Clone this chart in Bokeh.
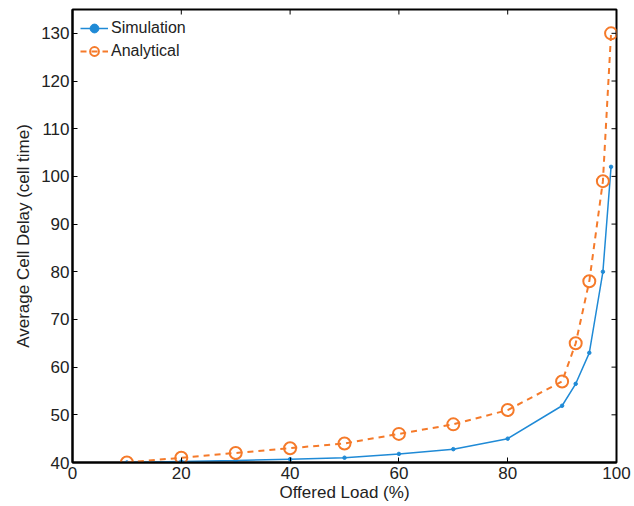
import math
from bokeh.plotting import figure
from bokeh.models import Range1d, FixedTicker, Legend, LegendItem
from bokeh.embed import file_html
from bokeh.resources import INLINE

load = [10, 20, 30, 40, 50, 60, 70, 80, 90, 92.5, 95, 97.5, 99]
simulation = [40.0, 40.2, 40.4, 40.7, 41.0, 41.8, 42.8, 45.0, 51.9, 56.5, 63.0, 80.0, 102.0]
analytical = [40.0, 41.0, 42.0, 43.0, 44.0, 46.0, 48.0, 51.0, 57.0, 65.0, 78.0, 99.0, 130.0]
x_ticks = [0, 20, 40, 60, 80, 100]
y_ticks = [40, 50, 60, 70, 80, 90, 100, 110, 120, 130]
x_lim = (0, 100)
y_lim = (40, 135)

BLUE = "#1f8ad6"
ORANGE = "#f57a2a"
FONT = "Liberation Sans"
TXT = "#222222"

p = figure(width=634, height=506, output_backend="svg", toolbar_location=None,
           x_range=Range1d(*x_lim), y_range=Range1d(*y_lim),
           min_border_left=72, min_border_right=18, min_border_top=9, min_border_bottom=44)
p.xgrid.visible = False
p.ygrid.visible = False
p.outline_line_color = "black"
p.outline_line_width = 2
p.background_fill_color = "white"
p.border_fill_color = "white"

for ax in (p.xaxis[0], p.yaxis[0]):
    ax.axis_line_color = "black"
    ax.axis_line_width = 2
    ax.major_tick_in = 5
    ax.major_tick_out = 0
    ax.minor_tick_line_color = None
    ax.major_tick_line_color = "black"
    ax.major_label_text_font = FONT
    ax.major_label_text_font_size = "17px"
    ax.major_label_text_color = TXT
    ax.axis_label_text_font = FONT
    ax.axis_label_text_font_size = "17px"
    ax.axis_label_text_font_style = "normal"
    ax.axis_label_text_color = TXT

p.xaxis.ticker = FixedTicker(ticks=x_ticks)
p.yaxis.ticker = FixedTicker(ticks=y_ticks)
p.xaxis.axis_label = "Offered Load (%)"
p.yaxis.axis_label = "Average Cell Delay (cell time)"
p.xaxis.major_label_standoff = 4
p.xaxis.axis_label_standoff = 1
p.yaxis.major_label_standoff = 3
p.yaxis.axis_label_standoff = 5

# inward tick marks on the top and right frame edges (half of each dash is clipped by the frame)
p.scatter(x_ticks, [y_lim[1]] * len(x_ticks), marker="dash", size=10, angle=math.pi / 2,
          line_color="black", line_width=1)
p.scatter([x_lim[1]] * len(y_ticks), y_ticks, marker="dash", size=10,
          line_color="black", line_width=1)

sl = p.line(load, simulation, line_color=BLUE, line_width=1.5)
sm = p.scatter(load, simulation, marker="circle", size=3.5, fill_color=BLUE, line_color=BLUE)
al = p.line(load, analytical, line_color=ORANGE, line_width=2, line_dash="6 5")
am = p.scatter(load, analytical, marker="circle", size=12, fill_color=None, line_color=ORANGE, line_width=2)

legend = Legend(items=[LegendItem(label="Simulation", renderers=[sl, sm]),
                       LegendItem(label="Analytical", renderers=[al, am])],
                location="top_left")
legend.border_line_color = None
legend.background_fill_alpha = 0
legend.label_text_font = FONT
legend.label_text_font_size = "16px"
legend.label_text_color = TXT
legend.glyph_width = 28
legend.glyph_height = 22
legend.label_height = 22
legend.label_standoff = 3
legend.spacing = 1
legend.padding = 2
legend.margin = 8
legend.margin = 8
p.add_layout(legend)

open("out.html", "w").write(file_html(p, INLINE))
